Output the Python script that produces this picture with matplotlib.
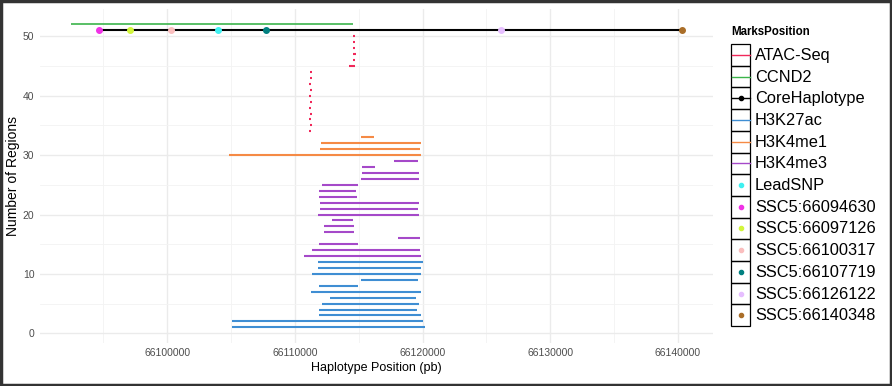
import numpy as np
import matplotlib
matplotlib.use('Agg')
import matplotlib.pyplot as plt
from matplotlib.patches import Rectangle
from matplotlib.ticker import MultipleLocator, FuncFormatter

plt.rcParams['font.family'] = ['Liberation Sans', 'DejaVu Sans']

# datos de las regiones (fila = Number of Regions)
h3k27ac_rows = list(range(1, 13))
h3k27ac_start = [66105083, 66105083, 66111910, 66111910, 66112121, 66112770,
                 66111261, 66111910, 66115171, 66111339, 66111832, 66111832]
h3k27ac_end = [66120199, 66120043, 66119863, 66119527, 66119761, 66119472,
               66119863, 66114913, 66119628, 66119863, 66119863, 66120043]

h3k4me3_rows = list(range(13, 30))
h3k4me3_start = [66110690, 66111316, 66111910, 66118041, 66112301, 66112301,
                 66112926, 66111832, 66111965, 66111988, 66111910, 66111910,
                 66112144, 66115194, 66115226, 66115272, 66117775]
h3k4me3_end = [66119863, 66119808, 66114913, 66119839, 66114623, 66114623,
               66114545, 66119683, 66119628, 66119683, 66114881, 66114756,
               66114913, 66119683, 66119683, 66116242, 66119605]

h3k4me1_rows = [30, 31, 32, 33]
h3k4me1_start = [66104872, 66111965, 66112043, 66115194]
h3k4me1_end = [66119863, 66119785, 66119863, 66116211]

atac_rows = list(range(34, 51))
atac_start = [66111130, 66111150, 66111140, 66111150, 66111140, 66111150,
              66111140, 66111150, 66111140, 66111150, 66111160,
              66114270, 66114540, 66114520, 66114560, 66114560, 66114570]
atac_end = [66111300, 66111310, 66111300, 66111320, 66111300, 66111310,
            66111300, 66111310, 66111300, 66111310, 66111320,
            66114720, 66114700, 66114780, 66114700, 66114700, 66114690]

ccnd2_row = 52
ccnd2_start, ccnd2_end = 66092440, 66114570

core_row = 51
snp_labels = ['SSC5:66094630', 'SSC5:66097126', 'SSC5:66100317', 'LeadSNP',
              'SSC5:66107719', 'SSC5:66126122', 'SSC5:66140348']
snp_pos = [66094630, 66097126, 66100317, 66103965, 66107719, 66126122, 66140348]

colores = {
    'ATAC-Seq': '#F0285A',
    'CCND2': '#3CB44B',
    'CoreHaplotype': '#000000',
    'H3K27ac': '#3F8ED3',
    'H3K4me1': '#F58A45',
    'H3K4me3': '#A549C9',
    'LeadSNP': '#3FF0F0',
    'SSC5:66094630': '#F032E6',
    'SSC5:66097126': '#D2F53C',
    'SSC5:66100317': '#FABEBE',
    'SSC5:66107719': '#008080',
    'SSC5:66126122': '#E6BEFF',
    'SSC5:66140348': '#AA6E28',
}

fig = plt.figure(figsize=(8.92, 3.86), dpi=100)
ax = fig.add_axes([40 / 892, 1 - 342.5 / 386, 673 / 892, 333.2 / 386])

ax.hlines(h3k27ac_rows, h3k27ac_start, h3k27ac_end, color=colores['H3K27ac'], lw=1.5)
ax.hlines(h3k4me3_rows, h3k4me3_start, h3k4me3_end, color=colores['H3K4me3'], lw=1.5)
ax.hlines(h3k4me1_rows, h3k4me1_start, h3k4me1_end, color=colores['H3K4me1'], lw=1.5)
ax.hlines(atac_rows, atac_start, atac_end, color=colores['ATAC-Seq'], lw=1.5)
ax.hlines([ccnd2_row], [ccnd2_start], [ccnd2_end], color=colores['CCND2'], lw=1.2)
ax.plot([min(snp_pos), max(snp_pos)], [core_row, core_row], color='black', lw=1.5, zorder=3)
for lab, pos in zip(snp_labels, snp_pos):
    ax.plot(pos, core_row, 'o', color=colores[lab], ms=4, zorder=4)

xmin = ccnd2_start
xmax = max(snp_pos)
pad = (xmax - xmin) * 0.05
ax.set_xlim(xmin - pad, xmax + pad)
ax.set_ylim(1 - 51 * 0.05, 52 + 51 * 0.05)

ax.xaxis.set_major_locator(MultipleLocator(10000))
ax.xaxis.set_minor_locator(MultipleLocator(5000))
ax.yaxis.set_major_locator(MultipleLocator(10))
ax.yaxis.set_minor_locator(MultipleLocator(5))
ax.xaxis.set_major_formatter(FuncFormatter(lambda v, p: '%d' % v))
ax.grid(which='major', color='#EBEBEB', lw=1.0)
ax.grid(which='minor', color='#F3F3F3', lw=0.6)
ax.set_axisbelow(True)
for s in ax.spines.values():
    s.set_visible(False)
ax.tick_params(which='both', length=0, labelsize=7.5, labelcolor='#4D4D4D', pad=4)
ax.set_xlabel('Haplotype Position (pb)', fontsize=9, labelpad=3)
ax.set_ylabel('Number of Regions', fontsize=10, labelpad=2)

# leyenda dibujada a mano (coordenadas en pixeles)
lax = fig.add_axes([0, 0, 1, 1], zorder=5)
lax.set_xlim(0, 892)
lax.set_ylim(386, 0)
lax.axis('off')
lax.text(731, 32, 'MarksPosition', fontsize=8.3, fontweight='bold', va='center', ha='left')
nombres = list(colores.keys())
alto = 21.7
for i, nom in enumerate(nombres):
    y0 = 44 + i * alto
    lax.add_patch(Rectangle((731, y0), 19, alto, fill=False, ec='black', lw=0.9))
    yc = y0 + alto / 2
    if i < 6:
        lax.plot([731.5, 749.5], [yc, yc], color=colores[nom], lw=1.0)
        if nom == 'CoreHaplotype':
            lax.plot(740.5, yc, 'o', color='black', ms=3)
    else:
        lax.plot(740.5, yc, 'o', color=colores[nom], ms=3)
    lax.text(755, yc + 0.5, nom, fontsize=11.8, va='center', ha='left')

fig.patches.append(Rectangle((0.0015, 0.003), 0.997, 0.994, transform=fig.transFigure,
                             fill=False, ec='#333333', lw=2.5))

plt.savefig('out.png', dpi=100)
